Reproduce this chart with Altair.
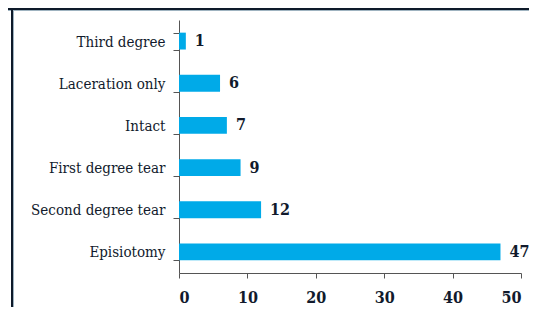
import altair as alt
import pandas as pd

categories = ["Third degree", "Laceration only", "Intact", "First degree tear", "Second degree tear", "Episiotomy"]
values = [1, 6, 7, 9, 12, 47]
x_ticks = [0, 10, 20, 30, 40, 50]

df = pd.DataFrame({"category": categories, "value": values})

FONT = "DejaVu Serif Condensed"
TEXT = "#111a2c"
BAR = "#00AAE8"

base = alt.Chart(df)

y_enc = alt.Y(
    "category:N",
    sort=categories,
    title=None,
    scale=alt.Scale(paddingInner=0.6, paddingOuter=0.3),
    axis=alt.Axis(
        tickBand="extent",
        tickSize=6,
        labelPadding=8,
        labelFont=FONT,
        labelFontSize=15,
        labelColor=TEXT,
        domainColor="#555555",
        tickColor="#555555",
        labelLimit=300,
    ),
)

x_enc = alt.X(
    "value:Q",
    title=None,
    scale=alt.Scale(domain=[0, 50], nice=False),
    axis=alt.Axis(
        values=x_ticks,
        grid=False,
        tickSize=5,
        labelPadding=11,
        labelFont=FONT,
        labelFontSize=16,
        labelFontWeight="bold",
        labelColor=TEXT,
        domainColor="#555555",
        tickColor="#555555",
    ),
)

bars = base.mark_bar(color=BAR).encode(x=x_enc, y=y_enc)

labels = base.mark_text(
    align="left", baseline="middle", dx=9, font=FONT, fontSize=16,
    fontWeight="bold", color=TEXT
).encode(x="value:Q", y=alt.Y("category:N", sort=categories), text="value:Q")

top_border = base.mark_rule(color="#0e1a2a", strokeWidth=2).encode(
    x=alt.value(-171), x2=alt.value(360), y=alt.value(-11)
)
top_border2 = base.mark_rule(color="#9fb3c0", strokeWidth=1).encode(
    x=alt.value(-171), x2=alt.value(360), y=alt.value(-9.5)
)
left_border = base.mark_rule(color="#0e1a2a", strokeWidth=2).encode(
    x=alt.value(-167), y=alt.value(-12), y2=alt.value(300)
)
left_border2 = base.mark_rule(color="#9fb3c0", strokeWidth=1).encode(
    x=alt.value(-165.5), y=alt.value(-9), y2=alt.value(300)
)

chart = alt.layer(bars, labels, top_border, top_border2, left_border, left_border2).properties(
    width=342,
    height=253,
    autosize=alt.AutoSizeParams(type="none"),
    padding={"left": 171, "top": 12, "right": 8, "bottom": 34},
    background="white",
).configure_view(stroke=None)

chart.save("out.html", embed_options={"renderer": "svg", "actions": False})
